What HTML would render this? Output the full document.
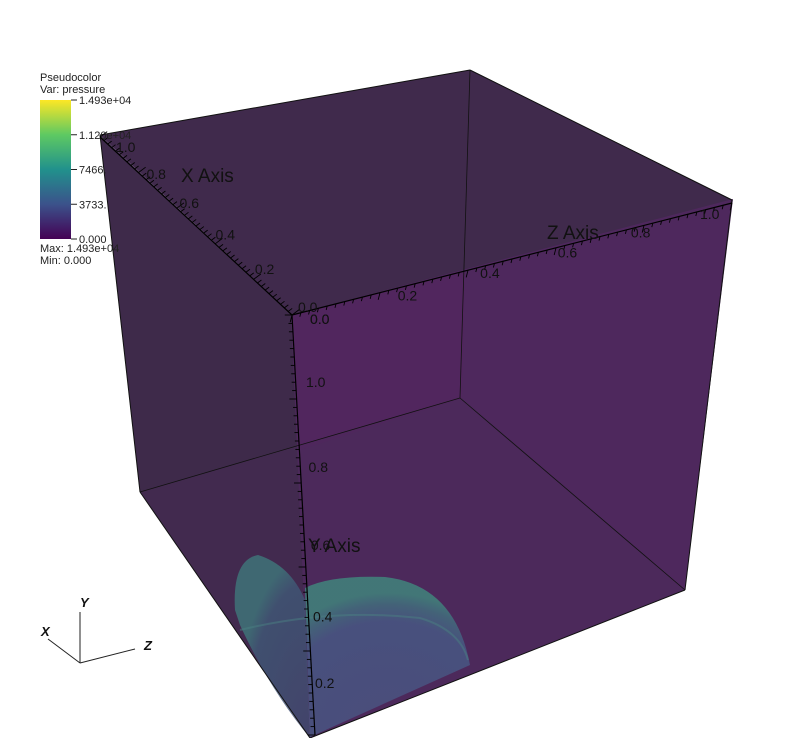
<!DOCTYPE html>
<html><head><meta charset="utf-8"><style>
html,body{margin:0;padding:0;background:#fff;}
svg{display:block;font-family:"Liberation Sans",sans-serif;}
</style></head><body>
<svg width="798" height="738" viewBox="0 0 798 738">
<defs>
<linearGradient id="vir" x1="0" y1="1" x2="0" y2="0">
<stop offset="0" stop-color="#440154"/><stop offset="0.25" stop-color="#3b528b"/>
<stop offset="0.5" stop-color="#21918c"/><stop offset="0.75" stop-color="#5ec962"/>
<stop offset="1" stop-color="#fde725"/></linearGradient>
<radialGradient id="blobR" cx="0.5" cy="1" r="0.9">
<stop offset="0" stop-color="#4a5582"/><stop offset="0.8" stop-color="#475a86"/><stop offset="0.92" stop-color="#41717f"/><stop offset="1" stop-color="#3f8a7e"/></radialGradient>
<radialGradient id="blobL" cx="1" cy="1" r="1">
<stop offset="0" stop-color="#434a72"/><stop offset="0.85" stop-color="#3f5a78"/><stop offset="1" stop-color="#3e7a7c"/></radialGradient>
</defs>
<polygon points="100,135 470,70 733,200 292,315" fill="#402a4c"/>
<polygon points="100,135 292,315 310,738 140,492" fill="#3e2a4a"/>
<polygon points="291,315 733,199 685,590 310,738" fill="#4e285d"/>
<polygon points="292,315 465,271 462,398 300,450" fill="#53245f" opacity="0.6"/>
<polygon points="140,492 462,398 685,590 310,738" fill="#4a2a58" opacity="0.35"/>
<path d="M235,610 Q232,560 258,555 Q290,565 305,600 L310,738 Q270,690 240,625 Z" fill="url(#blobL)" opacity="0.78"/>
<path d="M305,588 Q330,575 385,577 Q455,585 470,665 L310,737 Z" fill="url(#blobR)" opacity="0.8"/>
<path d="M240,630 Q330,608 420,618 Q460,630 468,660" fill="none" stroke="#4a8082" stroke-width="2" opacity="0.5"/>
<g stroke="#111" stroke-width="1" fill="none">
<line x1="100" y1="135" x2="470" y2="70"/><line x1="470" y1="70" x2="732" y2="200"/>
<line x1="470" y1="70" x2="460" y2="398" stroke-width="0.8"/>
<line x1="140" y1="492" x2="460" y2="398" stroke-width="0.8"/><line x1="460" y1="398" x2="685" y2="590" stroke-width="0.8"/>
<line x1="732" y1="200" x2="685" y2="590"/><line x1="100" y1="135" x2="140" y2="492"/>
<line x1="140" y1="492" x2="310" y2="738"/><line x1="310" y1="738" x2="685" y2="590"/>
</g>
<g id="axes" stroke="#000" stroke-width="1.2" fill="none"></g>
<g id="axlabels" font-size="14" fill="#111"></g>
<text x="181" y="182" font-size="19" fill="#111">X Axis</text>
<text x="547" y="239" font-size="19" fill="#111">Z Axis</text>
<text x="308" y="552" font-size="19" fill="#111">Y Axis</text>
<g font-size="11" fill="#222">
<text x="40" y="81">Pseudocolor</text><text x="40" y="93">Var: pressure</text>
<rect x="40" y="100" width="31" height="139" fill="url(#vir)"/>
<g id="legticks"></g>
<text x="40" y="252">Max:  1.493e+04</text><text x="40" y="264">Min:  0.000</text>
</g>
<g stroke="#222" stroke-width="1">
<line x1="80" y1="663" x2="80" y2="612"/><line x1="80" y1="663" x2="48" y2="639"/><line x1="80" y1="663" x2="135" y2="649"/>
</g>
<g font-size="13" font-style="italic" font-weight="bold" fill="#111">
<text x="80" y="607">Y</text><text x="41" y="636">X</text><text x="144" y="650">Z</text></g>
<script>
var legendLabels=["0.000","3733.","7466.","1.120e+04","1.493e+04"];
var xTickValues=[0.0,0.2,0.4,0.6,0.8,1.0];
var xTickLabels=["0.0","0.2","0.4","0.6","0.8","1.0"];
var zTickValues=[0.0,0.2,0.4,0.6,0.8,1.0];
var zTickLabels=["0.0","0.2","0.4","0.6","0.8","1.0"];
var yTickValues=[1.0,0.8,0.6,0.4,0.2];
var yTickLabels=["1.0","0.8","0.6","0.4","0.2"];
var NS="http://www.w3.org/2000/svg";
function mk(t,a,p){var e=document.createElementNS(NS,t);for(var k in a)e.setAttribute(k,a[k]);p.appendChild(e);return e;}
function persp(t,c){return t*(1+c)/(1+c*t);}
var lg=document.getElementById('legticks');
legendLabels.forEach(function(s,i){var y=239-i*139/(legendLabels.length-1);
var l=mk('line',{x1:71,y1:y,x2:77,y2:y,stroke:'#222'},lg);


var t=mk('text',{x:79,y:y+4},lg);t.textContent=s;

});
var ax=document.getElementById('axes'),al=document.getElementById('axlabels');
function axisLine(p0,p1,n,td,name){
 var l=mk('line',{x1:p0[0],y1:p0[1],x2:p1[0],y2:p1[1]},ax);
 
 
 for(var i=0;i<=n;i++){var f=i/n,x=p0[0]+(p1[0]-p0[0])*f,y=p0[1]+(p1[1]-p0[1])*f,m=(i%10==0)?1.8:1;
  mk('line',{x1:x,y1:y,x2:x+td[0]*m,y2:y+td[1]*m,'stroke-width':0.9},ax);}
}
function labels(vals,txt,a0,a1,fmap,name){
 vals.forEach(function(v,i){var f=fmap(v);var x=a0[0]+(a1[0]-a0[0])*f,y=a0[1]+(a1[1]-a0[1])*f;
  var t=mk('text',{x:x,y:y},al);t.textContent=txt[i];
  
  });
}
axisLine([292,315],[100,137],50,[4,-3],'x-axis');
axisLine([292,315],[732,203],50,[-1,4],'z-axis');
axisLine([292,315],[315,735],50,[-4,0],'y-axis');
labels(xTickValues,xTickLabels,[298,312],[116,152],function(v){return persp(v,0.243);},'x-axis');
labels(zTickValues,zTickLabels,[310,324],[700,219],function(v){return persp(v,0.161);},'z-axis');
labels(yTickValues,yTickLabels,[306,387],[315,688],function(v){return persp((1-v)/0.8,0.178);},'y-axis');
var t0=mk('text',{x:310,y:324},al);t0.textContent="0.0";


</script>
</svg>
</body></html>
